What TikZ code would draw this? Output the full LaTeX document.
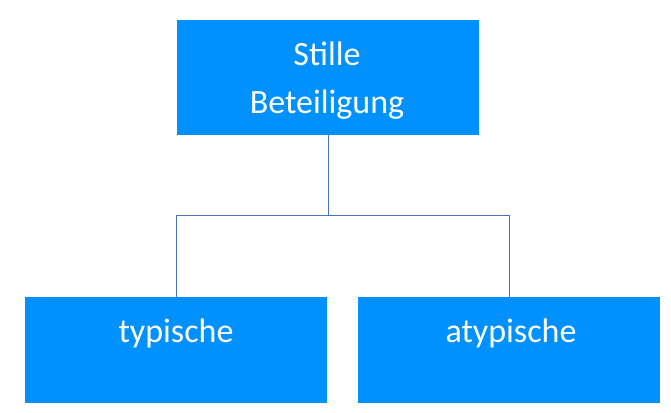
\documentclass[tikz,border=0pt]{standalone}
\usepackage{fontspec}
\setmainfont{Carlito}
\definecolor{boxblue}{RGB}{0,145,255}
\definecolor{linkblue}{RGB}{68,114,196}
\tikzset{
  orgbox/.style={fill=boxblue, draw=none, minimum width=302pt, minimum height=106pt, inner sep=0pt},
  orgtext/.style={text=white, font=\fontsize{34pt}{48pt}\selectfont, align=center},
  orglink/.style={draw=linkblue, line width=0.8pt}
}
\begin{document}
\begin{tikzpicture}[x=1pt,y=-1pt]
\useasboundingbox (0,0) rectangle (671,412);
% Kaesten
\node[orgbox, minimum height=115pt] (top) at (327.5,77.5) {};
\node[orgbox] (left) at (176,350) {};
\node[orgbox] (right) at (509,350) {};
% Texte
\node[orgtext] (toptext) at (327,81) {Stille\\Beteiligung};
\node[orgtext] (lefttext) at (176,333) {typische};
\node[orgtext] (righttext) at (511,333) {atypische};
% Verbindungen
\coordinate (mid) at (328,215);
\draw[orglink] (top.south -| mid) -- (mid) -| (left.north);
\draw[orglink] (mid) -| (right.north);
\end{tikzpicture}
\end{document}
